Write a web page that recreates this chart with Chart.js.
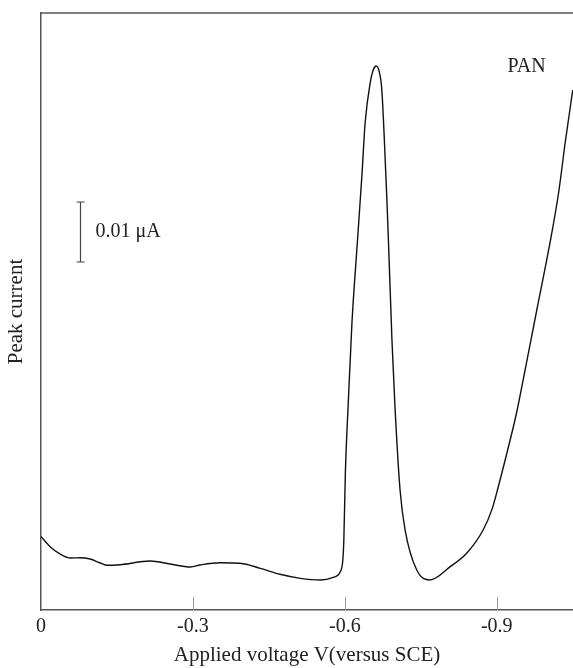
<!DOCTYPE html>
<html>
<head>
<meta charset="utf-8">
<script src="https://cdn.jsdelivr.net/npm/chart.js@4/dist/chart.umd.min.js"></script>
<style>
  body { margin: 0; background: #fff; }
  #wrap { width: 573px; height: 668px; }
</style>
</head>
<body>
<div id="wrap"><canvas id="c"></canvas></div>
<script>
// applied voltage (V vs SCE) and peak current (nA)
const voltage = [0, -0.018, -0.038, -0.058, -0.078, -0.097, -0.117, -0.131, -0.156, -0.216,
  -0.255, -0.295, -0.314, -0.354, -0.393, -0.433, -0.472, -0.512, -0.551, -0.577,
  -0.591, -0.596, -0.598, -0.601, -0.607, -0.614, -0.625, -0.634, -0.640, -0.650,
  -0.656, -0.662, -0.668, -0.673, -0.678, -0.683, -0.686, -0.693, -0.699, -0.709,
  -0.719, -0.742, -0.768, -0.808, -0.841, -0.873, -0.891, -0.903, -0.920, -0.939,
  -0.952, -0.979, -1.005, -1.022, -1.035, -1.050];
const currentNA = [12.25, 10.55, 9.33, 8.67, 8.72, 8.5, 7.83, 7.45, 7.55, 8.17,
  7.67, 7.17, 7.5, 7.88, 7.78, 6.95, 5.95, 5.28, 5.0, 5.45,
  6.38, 8.33, 11.67, 22.83, 35.0, 47.83, 61.67, 72.83, 81.17, 87.83,
  90.0, 90.67, 89.67, 86.67, 78.33, 68.33, 61.67, 45.0, 33.83, 20.0,
  13.33, 6.67, 5.0, 7.22, 9.5, 13.33, 16.9, 20.55, 26.17, 32.83,
  38.33, 50.0, 61.17, 69.5, 77.83, 86.67];
const xTickValues = [0, -0.3, -0.6, -0.9];
const xTickLabels = ['0', '-0.3', '-0.6', '-0.9'];
const seriesLabel = 'PAN';
const scaleBar = { v: -0.0776, from: 58, to: 68, text: '0.01 \u03bcA' };

const serif = '"Liberation Serif", "DejaVu Serif", serif';

const extras = {
  id: 'extras',
  afterDraw(chart) {
    const { ctx, chartArea, scales: { x, y } } = chart;
    ctx.save();
    // top frame line
    ctx.strokeStyle = '#555';
    ctx.lineWidth = 1.5;
    ctx.beginPath();
    ctx.moveTo(chartArea.left, chartArea.top);
    ctx.lineTo(chartArea.right, chartArea.top);
    ctx.stroke();
    // inward tick marks
    ctx.strokeStyle = '#999';
    ctx.lineWidth = 1;
    xTickValues.slice(1).forEach(v => {
      const px = Math.round(x.getPixelForValue(v)) + 0.5;
      ctx.beginPath();
      ctx.moveTo(px, chartArea.bottom);
      ctx.lineTo(px, chartArea.bottom - 13);
      ctx.stroke();
    });
    // scale bar
    const bx = Math.round(x.getPixelForValue(scaleBar.v)) + 0.5;
    const y1 = y.getPixelForValue(scaleBar.to);
    const y2 = y.getPixelForValue(scaleBar.from);
    ctx.strokeStyle = '#444';
    ctx.lineWidth = 1.2;
    ctx.beginPath();
    ctx.moveTo(bx, y1); ctx.lineTo(bx, y2);
    ctx.moveTo(bx - 4, y1); ctx.lineTo(bx + 4, y1);
    ctx.moveTo(bx - 4, y2); ctx.lineTo(bx + 4, y2);
    ctx.stroke();
    ctx.fillStyle = '#222';
    ctx.font = '20px ' + serif;
    ctx.textBaseline = 'middle';
    ctx.textAlign = 'left';
    ctx.fillText(scaleBar.text, bx + 15, (y1 + y2) / 2);
    // series label
    ctx.textAlign = 'center';
    ctx.fillText(seriesLabel, x.getPixelForValue(-0.959), y.getPixelForValue(90.5));
    ctx.restore();
  }
};

new Chart(document.getElementById('c'), {
  type: 'line',
  data: {
    datasets: [{
      label: seriesLabel,
      data: voltage.map((v, i) => ({ x: v, y: currentNA[i] })),
      borderColor: '#111',
      borderWidth: 1.4,
      pointRadius: 0,
      fill: false,
      cubicInterpolationMode: 'monotone'
    }]
  },
  options: {
    responsive: true,
    maintainAspectRatio: false,
    animation: false,
    layout: { padding: { top: 13, right: 0, left: 0, bottom: 0 } },
    plugins: {
      legend: { display: false },
      tooltip: { enabled: false }
    },
    scales: {
      x: {
        type: 'linear',
        reverse: true,
        min: -1.0505,
        max: 0,
        afterBuildTicks: scale => { scale.ticks = xTickValues.map(v => ({ value: v })); },
        afterFit: scale => { scale.height = 58; },
        grid: { display: false, drawTicks: false },
        border: { display: true, color: '#555', width: 1.5 },
        ticks: {
          padding: 5,
          color: '#222',
          font: { family: serif, size: 20 },
          maxRotation: 0,
          callback: (value, index) => xTickLabels[index]
        },
        title: {
          display: true,
          text: 'Applied voltage V(versus SCE)',
          color: '#222',
          font: { family: serif, size: 21 },
          padding: { top: 0, bottom: 0 }
        }
      },
      y: {
        min: 0,
        max: 99.5,
        afterFit: scale => { scale.width = 41; },
        grid: { display: false, drawTicks: false },
        border: { display: true, color: '#555', width: 1.5 },
        ticks: { display: false },
        title: {
          display: true,
          text: 'Peak current',
          color: '#222',
          font: { family: serif, size: 21 },
          padding: { top: 4, bottom: 0 }
        }
      }
    }
  },
  plugins: [extras]
});
</script>
</body>
</html>
